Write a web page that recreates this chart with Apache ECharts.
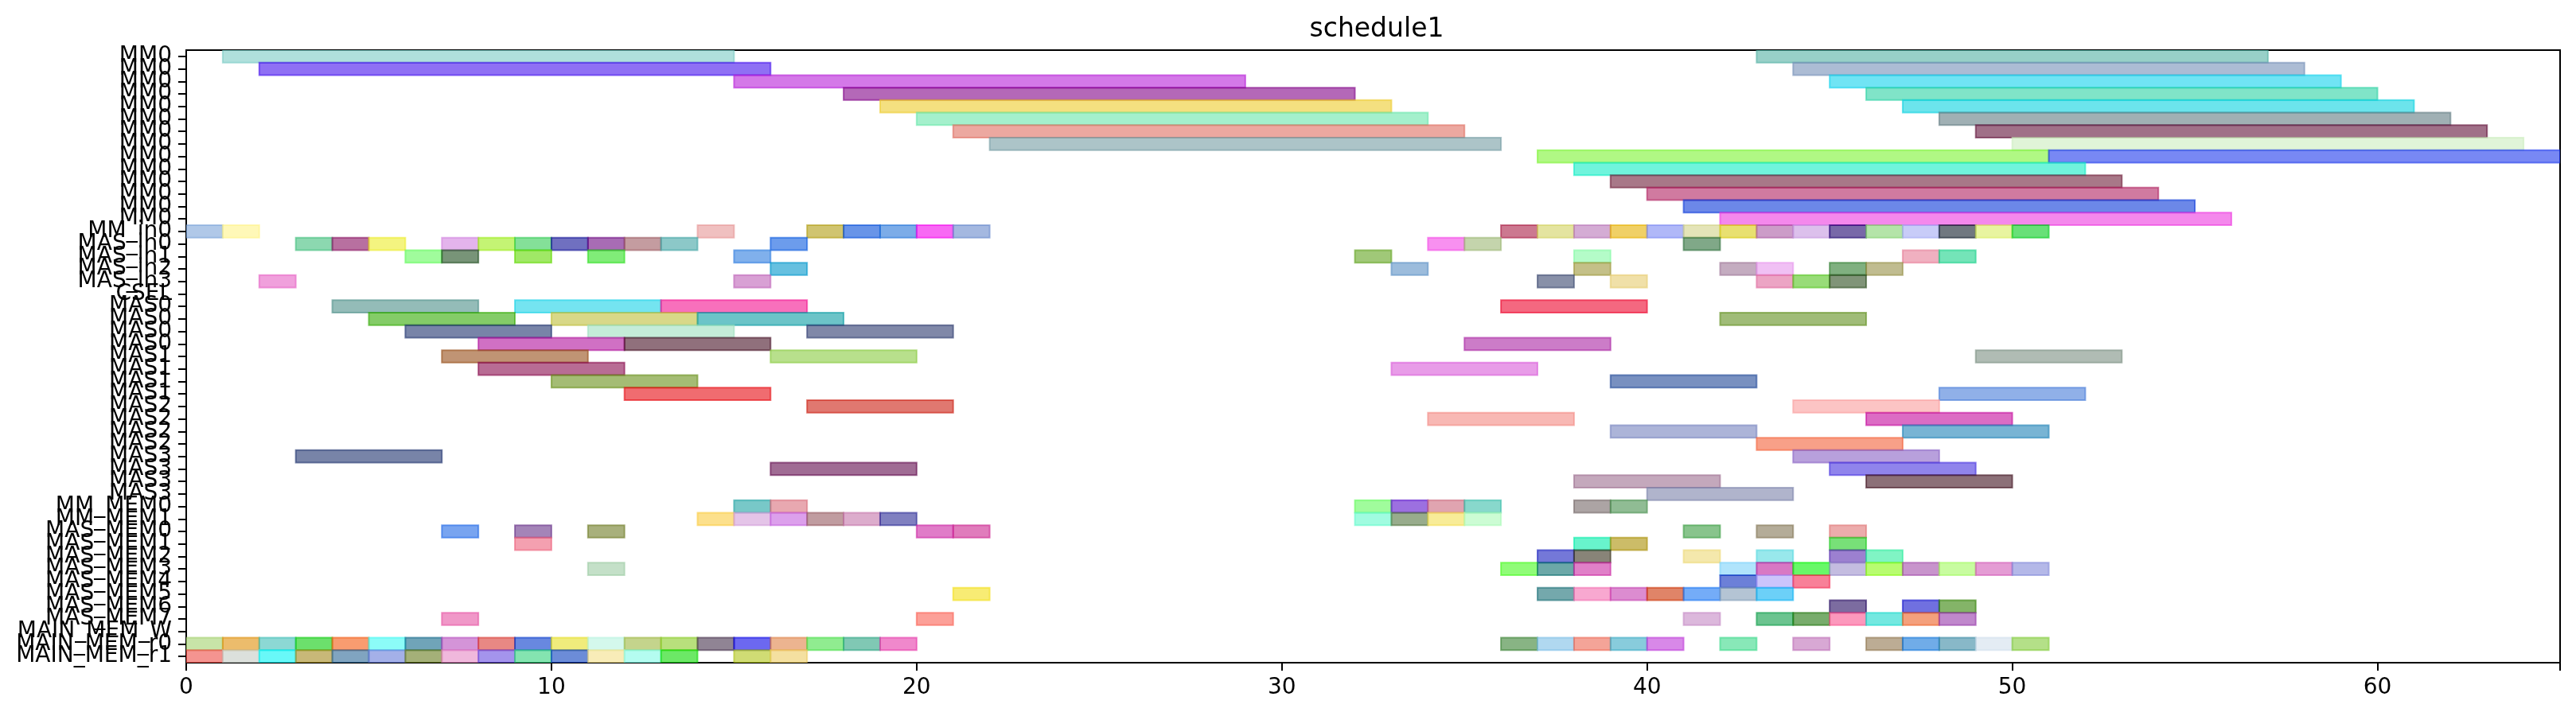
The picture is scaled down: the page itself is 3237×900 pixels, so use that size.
<!DOCTYPE html>
<html>
<head>
<meta charset="utf-8">
<title>schedule1</title>
<script src="https://cdn.jsdelivr.net/npm/echarts@6/dist/echarts.min.js"></script>
<style>
html, body { margin: 0; padding: 0; background: #fff; }
#main { width: 3237px; height: 900px; }
</style>
</head>
<body>
<div id="main"></div>
<script>
//行名称（从上到下）
var rowLabels = ['MM0','MM0','MM0','MM0','MM0','MM0','MM0','MM0','MM0','MM0','MM0','MM0','MM0','MM0',
    'MM_in0','MAS_in0','MAS_in1','MAS_in2','MAS_in3','CSEL',
    'MAS0','MAS0','MAS0','MAS0','MAS1','MAS1','MAS1','MAS1',
    'MAS2','MAS2','MAS2','MAS2','MAS3','MAS3','MAS3','MAS3',
    'MM_MEM0','MM_MEM1','MAS_MEM0','MAS_MEM1','MAS_MEM2','MAS_MEM3','MAS_MEM4','MAS_MEM5','MAS_MEM6','MAS_MEM7',
    'MAIN_MEM_W','MAIN_MEM_r0','MAIN_MEM_r1'];

var xTicks = [0, 10, 20, 30, 40, 50, 60];

//[行, 开始, 结束]
var mm0Bars = [[0,1,15],[0,43,57],[1,2,16],[1,44,58],[2,15,29],[2,45,59],[3,18,32],[3,46,60],
    [4,19,33],[4,47,61],[5,20,34],[5,48,62],[6,21,35],[6,49,63],[7,22,36],[7,50,64],
    [8,37,51],[8,51,65],[9,38,52],[10,39,53],[11,40,54],[12,41,55],[13,42,56]];
var mm0Colors = ['#b0e0dc','#98d0c8','#8f70f4','#acbcd4','#d478e8','#70e4f4','#b468b8','#80e4c8',
    '#f4e080','#6ce4ec','#a4f0cc','#a0b0b4','#eca8a0','#a07088','#acc4c8','#e0f4d8',
    '#b0f884','#7888f4','#70f4dc','#a87888','#d07aa0','#6c88e8','#f488ec'];

var inBars = [[14,0,1],[14,1,2],[14,14,15],[14,17,18],[14,18,19],[14,19,20],[14,20,21],[14,21,22],
    [14,36,37],[14,37,38],[14,38,39],[14,39,40],[14,40,41],[14,41,42],[14,42,43],[14,43,44],
    [14,44,45],[14,45,46],[14,46,47],[14,47,48],[14,48,49],[14,49,50],[14,50,51],
    [15,3,4],[15,4,5],[15,5,6],[15,7,8],[15,8,9],[15,9,10],[15,10,11],[15,11,12],[15,12,13],[15,13,14],
    [15,16,17],[15,34,35],[15,35,36],[15,41,42],
    [16,6,7],[16,7,8],[16,9,10],[16,11,12],[16,15,16],[16,32,33],[16,38,39],[16,47,48],[16,48,49],
    [17,16,17],[17,33,34],[17,38,39],[17,42,43],[17,43,44],[17,45,46],[17,46,47],
    [18,2,3],[18,15,16],[18,37,38],[18,39,40],[18,43,44],[18,44,45],[18,45,46]];
var inColors = ['#b0c8e8','#fff8b8','#f0c0c0','#d0c470','#6894e8','#7cace8','#f868f4','#a4b8e0',
    '#cc7890','#e4e4a0','#d4acd4','#f0d060','#b0b8f8','#e4e4b8','#e8e070','#cc9cc8',
    '#dcc0ec','#7868a8','#b4e4a8','#c8ccf8','#707880','#e8f4a0','#68e078',
    '#8cd8b0','#b870a0','#f4f480','#e4b4ec','#c4f474','#84e098','#7070c0','#a86cb4','#c49ca0','#8cc8c8',
    '#6c9cec','#f890f0','#c4d4ac','#80a888',
    '#a0fc9c','#789478','#a0e860','#80ec78','#80b0ec','#a0c878','#b4fcc8','#f0b0c0','#74e4b8',
    '#64c0e0','#9cbcdc','#c4c088','#c4acc0','#f0c0f4','#80b080','#c0bc90',
    '#f0a0dc','#d8a0d4','#8890a8','#f0e0a8','#eca4c4','#98dc78','#809478'];

var masBars = [[20,4,8],[20,9,13],[20,13,17],[20,36,40],
    [21,5,9],[21,10,14],[21,14,18],[21,42,46],
    [22,6,10],[22,11,15],[22,17,21],
    [23,8,12],[23,12,16],[23,35,39],
    [24,7,11],[24,16,20],[24,49,53],
    [25,8,12],[25,33,37],
    [26,10,14],[26,39,43],
    [27,12,16],[27,48,52],
    [28,17,21],[28,44,48],
    [29,34,38],[29,46,50],
    [30,39,43],[30,47,51],
    [31,43,47],
    [32,3,7],[32,44,48],
    [33,16,20],[33,45,49],
    [34,38,42],[34,46,50],
    [35,40,44]];
var masColors = ['#94bcb8','#74e4f0','#f870bc','#f46880',
    '#84cc68','#d8d888','#6cc4c8','#a0bc78',
    '#7884a8','#c4ecd8','#8088a8',
    '#d070c4','#90707c','#cc7cc8',
    '#c09474','#b8e08c','#b0bcb4',
    '#b86c94','#e89ce8',
    '#a4bc74','#7890c0',
    '#f06c70','#90b0e8',
    '#e07870','#fcc4c4',
    '#f8b8b4','#dc6cc4',
    '#acb4d8','#78b4d4',
    '#f8a088',
    '#7884a8','#b8a0dc',
    '#a06c94','#9084ec',
    '#c4a8bc','#8c7078',
    '#b0b4cc'];

var memBars = [[36,15,16],[36,16,17],[36,32,33],[36,33,34],[36,34,35],[36,35,36],[36,38,39],[36,39,40],
    [37,14,15],[37,15,16],[37,16,17],[37,17,18],[37,18,19],[37,19,20],[37,32,33],[37,33,34],[37,34,35],[37,35,36],
    [38,7,8],[38,9,10],[38,11,12],[38,20,21],[38,21,22],[38,41,42],[38,43,44],[38,45,46],
    [39,9,10],[39,38,39],[39,39,40],[39,45,46],
    [40,37,38],[40,38,39],[40,41,42],[40,43,44],[40,45,46],[40,46,47],
    [41,11,12],[41,36,37],[41,37,38],[41,38,39],[41,42,43],[41,43,44],[41,44,45],[41,45,46],[41,46,47],
    [41,47,48],[41,48,49],[41,49,50],[41,50,51],
    [42,42,43],[42,43,44],[42,44,45],
    [43,21,22],[43,37,38],[43,38,39],[43,39,40],[43,40,41],[43,41,42],[43,42,43],[43,43,44],
    [44,45,46],[44,47,48],[44,48,49],
    [45,7,8],[45,20,21],[45,41,42],[45,43,44],[45,44,45],[45,45,46],[45,46,47],[45,47,48],[45,48,49]];
var memColors = ['#78c8c8','#e8a8b0','#a0fc9c','#9c70e0','#e0a4b0','#88d8cc','#aca4a4','#90bc94',
    '#fce08c','#e4c4e8','#dca0ec','#c09ca0','#dcaccc','#8080c0','#a0fce0','#98ac8c','#f8ec98','#ccfcd4',
    '#78a4f0','#a484b8','#a8b07c','#e07cc8','#e07cbc','#88c48c','#b4ac98','#ecacac',
    '#f4a0b0','#68f4cc','#ccbc68','#78e078',
    '#7478d8','#888478','#f4e8ac','#98e8ec','#9c80d0','#80f4c4',
    '#c4e0c8','#90fc78','#6ca8a8','#e080c8','#b0e4fc','#d878c4','#68f868','#c4bce0','#b8fc70',
    '#c894cc','#c8fca0','#e49cd4','#b4b8e8',
    '#6c80d8','#ccc4fc','#f88098',
    '#f8ec74','#74a8ac','#f8a8d0','#dc8cd0','#e08468','#74acf8','#b4c4d4','#6cd0f8',
    '#7c6ca0','#7070e0','#84b468',
    '#f098c8','#fca098','#dcb8dc','#6cc490','#78ac6c','#fc98bc','#74e8e0','#f4a07c','#c088cc'];

var mainMemBars = [[47,0,1],[47,1,2],[47,2,3],[47,3,4],[47,4,5],[47,5,6],[47,6,7],[47,7,8],[47,8,9],[47,9,10],
    [47,10,11],[47,11,12],[47,12,13],[47,13,14],[47,14,15],[47,15,16],[47,16,17],[47,17,18],[47,18,19],[47,19,20],
    [47,36,37],[47,37,38],[47,38,39],[47,39,40],[47,40,41],[47,42,43],[47,44,45],[47,46,47],[47,47,48],[47,48,49],
    [47,49,50],[47,50,51],
    [48,0,1],[48,1,2],[48,2,3],[48,3,4],[48,4,5],[48,5,6],[48,6,7],[48,7,8],[48,8,9],[48,9,10],
    [48,10,11],[48,11,12],[48,12,13],[48,13,14],[48,15,16],[48,16,17]];
var mainMemColors = ['#c8e4a8','#ecbc6c','#8cd8d4','#6ce06c','#f89c70','#8cfcf8','#70a4b8','#d494d8','#e88884','#6888e0',
    '#f0ec7c','#d4f8ec','#c4d48c','#b8e07c','#908494','#6c68f0','#ecb490','#90ec90','#80c8b4','#f088cc',
    '#88b484','#b0d8f0','#f4a498','#88ccdc','#d888e8','#88e8b8','#d8a8d4','#bcac94','#70ace8','#88b8c8',
    '#e4ecf4','#b4e088',
    '#f49490','#dce0dc','#68f8f8','#c8b878','#80a4c0','#a4b0e8','#a4b078','#f0b8dc','#a494ec','#84e4b0',
    '#6c8cd8','#f8ecb8','#b4fcf0','#6ce860','#d0dc74','#f4e0a0'];

var ALPHA = 0.6;
//图上看到的是白底上的半透明色，反推原色
function baseColor(hex) {
    var c = [1, 3, 5].map(function (i) {
        var v = parseInt(hex.substr(i, 2), 16);
        v = Math.round((v - 255 * (1 - ALPHA)) / ALPHA);
        return Math.max(0, Math.min(255, v));
    });
    return 'rgba(' + c.join(',') + ',' + ALPHA + ')';
}

function renderBar(params, api) {
    var row = api.value(0);
    var p0 = api.coord([api.value(1), row]);
    var p1 = api.coord([api.value(2), row]);
    var h = api.size([0, 1])[1];
    var col = baseColor(api.value(3));
    return {
        type: 'rect',
        shape: { x: p0[0], y: p0[1] - h / 2, width: p1[0] - p0[0], height: h },
        style: { fill: col, stroke: col, lineWidth: 2 }
    };
}

function makeSeries(name, bars, colors) {
    return {
        name: name,
        type: 'custom',
        renderItem: renderBar,
        encode: { x: [1, 2], y: 0 },
        data: bars.map(function (b, i) { return [b[0], b[1], b[2], colors[i]]; }),
        silent: true,
        clip: true
    };
}

var font = 'DejaVu Sans';
var chart = echarts.init(document.getElementById('main'));
var option = {
    animation: false,
    backgroundColor: '#fff',
    title: {
        text: 'schedule1',
        left: 1725,
        top: 16,
        textAlign: 'center',
        textStyle: { fontFamily: font, fontSize: 33, fontWeight: 'normal', color: '#000' }
    },
    grid: {
        left: 234, right: 20, top: 63, bottom: 67,
        show: true, borderColor: '#000', borderWidth: 2, backgroundColor: 'transparent'
    },
    xAxis: {
        type: 'value',
        min: 0, max: 65, interval: 10,
        splitLine: { show: false },
        axisLine: { show: true, lineStyle: { color: '#000', width: 2 } },
        axisTick: { show: true, length: 10, lineStyle: { color: '#000', width: 2 } },
        axisLabel: {
            margin: 18, color: '#000', fontFamily: font, fontSize: 28,
            formatter: function (v) { return xTicks.indexOf(v) >= 0 ? String(v) : ''; }
        }
    },
    yAxis: {
        type: 'category',
        inverse: true,
        data: rowLabels,
        boundaryGap: true,
        axisLine: { show: true, lineStyle: { color: '#000', width: 2 } },
        axisTick: { show: true, alignWithLabel: true, interval: 0, length: 10, lineStyle: { color: '#000', width: 2 } },
        axisLabel: { interval: 0, margin: 18, color: '#000', fontFamily: font, fontSize: 28 },
        splitLine: { show: false }
    },
    series: [
        makeSeries('MM0', mm0Bars, mm0Colors),
        makeSeries('in', inBars, inColors),
        makeSeries('MAS', masBars, masColors),
        makeSeries('MEM', memBars, memColors),
        makeSeries('MAIN_MEM', mainMemBars, mainMemColors)
    ]
};
chart.setOption(option);
</script>
</body>
</html>
